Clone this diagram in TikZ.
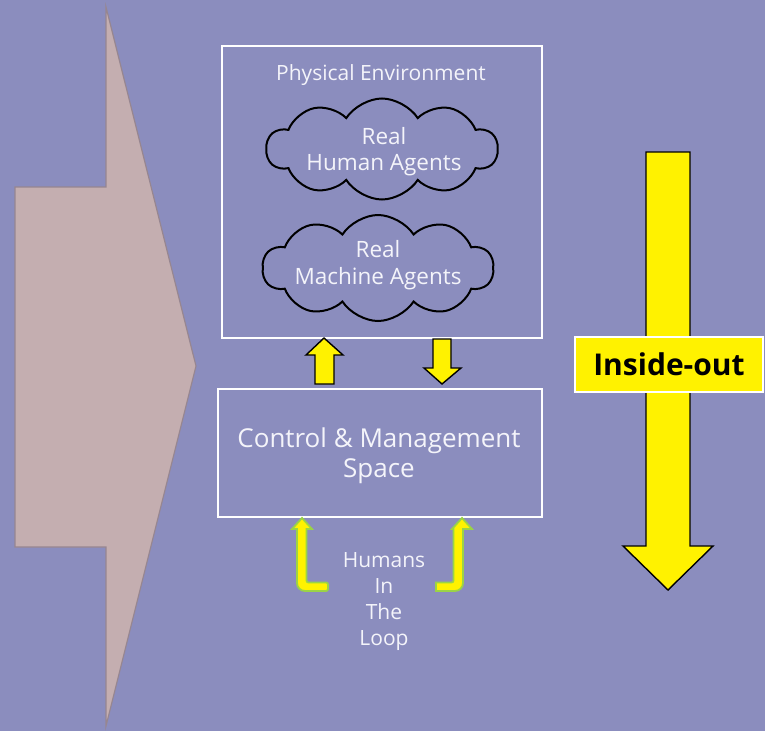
\documentclass[tikz,border=0pt]{standalone}
\usepackage{fontspec}
\setmainfont{Open Sans}
\usetikzlibrary{shapes.symbols}
\definecolor{bg}{HTML}{8B8DBE}
\definecolor{pinkarrow}{HTML}{C4AEB0}
\definecolor{pinkedge}{HTML}{978690}
\definecolor{loopgreen}{HTML}{9BD346}
\definecolor{txt}{HTML}{F4F4FA}
\tikzset{
  frame/.style={draw=white, line width=1.6pt},
  label/.style={text=txt, align=center, inner sep=0pt},
  puff/.style={cloud, cloud puffs=10, cloud puff arc=115, draw=black, line width=2pt, inner sep=0pt},
  flow/.style={fill=yellow, draw=black, line width=1.4pt, line join=miter},
  loop/.style={fill=yellow, draw=loopgreen, line width=1.8pt},
}
\begin{document}
\begin{tikzpicture}[x=1pt, y=-1pt]
  % canvas
  \fill[bg] (0,0) rectangle (765,731);
  \useasboundingbox (0,0) rectangle (765,731);

  % broad notched arrow on the left
  \draw[fill=pinkarrow, draw=pinkedge, line width=1.2pt, line join=miter]
    (106,7) -- (106,187) -- (15,187) -- (15,547) -- (106,547) -- (106,726) -- (196,366) -- cycle;

  % physical environment frame
  \node[frame, minimum width=320pt, minimum height=292pt, anchor=north west, inner sep=0pt] (phys) at (221,45) {};
  \node[label, font=\fontsize{21}{24}\selectfont] (physlbl) at (381,75) {Physical Environment};

  % agent clouds
  \node[puff, minimum width=231pt, minimum height=101pt] (humcloud) at (382,149) {};
  \node[label, font=\fontsize{22.5}{26}\selectfont] (humlbl) at (384,152) {Real\\Human Agents};
  \node[puff, minimum width=231pt, minimum height=106pt] (maccloud) at (378,268) {};
  \node[label, font=\fontsize{22.5}{27}\selectfont] (maclbl) at (378,265) {Real\\Machine Agents};

  % control and management frame
  \node[frame, minimum width=324pt, minimum height=128pt, anchor=north west, inner sep=0pt] (ctrl) at (217,388) {};
  \node[label, font=\fontsize{26}{30}\selectfont] (ctrllbl) at (379,456) {Control \& Management\\Space};

  % exchange arrows between the frames
  \draw[flow] (324,338) -- (343,355) -- (334,355) -- (334,384) -- (315,384) -- (315,355) -- (306,355) -- cycle;
  \draw[flow] (442,384) -- (461,368) -- (451,368) -- (451,339) -- (433,339) -- (433,368) -- (424,368) -- cycle;

  % humans-in-the-loop arrows
  \draw[loop, rounded corners=0pt]
    (302,518) -- (312,529) -- (306.5,529) -- (306.5,580) [rounded corners=2pt] -- (306.5,582.5) -- (328,582.5)
    -- (328,591) [rounded corners=8pt] -- (297,591) [rounded corners=0pt] -- (297,529) -- (292,529) -- cycle;
  \draw[loop, rounded corners=0pt]
    (462,518) -- (472,529) -- (463,529) [rounded corners=8pt] -- (463,591) [rounded corners=0pt] -- (436,591)
    -- (436,582.5) [rounded corners=2pt] -- (453.5,582.5) [rounded corners=0pt] -- (453.5,529) -- (452,529) -- cycle;
  \node[label, font=\fontsize{21}{26}\selectfont] (hitl) at (384,602) {Humans\\In\\The\\Loop};

  % inside-out arrow
  \draw[flow] (646,152) -- (690,152) -- (690,546) -- (713,546) -- (668,590) -- (623,546) -- (646,546) -- cycle;
  \node[fill=yellow, draw=white, line width=1.4pt, minimum width=188pt, minimum height=55pt, inner sep=0pt,
        font=\fontsize{30}{34}\selectfont\bfseries] (inout) at (669,364.5) {\raisebox{-2pt}{Inside-out}};
\end{tikzpicture}
\end{document}
